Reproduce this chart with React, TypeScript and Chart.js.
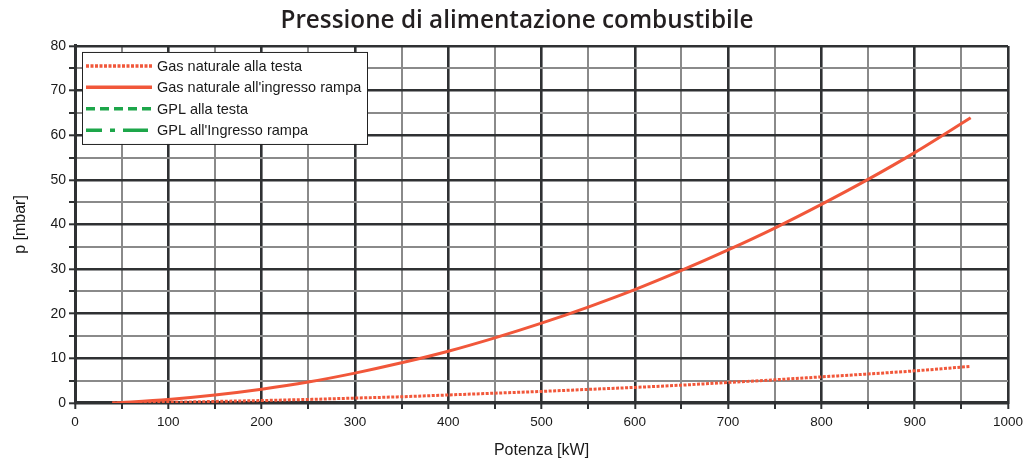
import React, { useEffect, useRef } from "react";
import { Chart, registerables } from "chart.js";

Chart.register(...registerables);

const TITLE = "Pressione di alimentazione combustibile";
const X_TITLE = "Potenza [kW]";
const Y_TITLE = "p [mbar]";

const SERIES_NAMES = [
  "Gas naturale alla testa",
  "Gas naturale all'ingresso rampa",
  "GPL alla testa",
  "GPL all'Ingresso rampa",
];

const POWER_KW = [40, 100, 150, 200, 250, 300, 350, 400, 450, 500, 550, 600, 650, 700, 750, 800, 850, 900, 960];
const GAS_TESTA = [0, 0.15, 0.35, 0.55, 0.8, 1.1, 1.4, 1.8, 2.2, 2.6, 3.05, 3.5, 4.0, 4.6, 5.2, 5.85, 6.5, 7.2, 8.2];
const GAS_RAMPA = [0, 0.8, 1.8, 3.1, 4.7, 6.7, 9.0, 11.6, 14.6, 17.9, 21.5, 25.4, 29.7, 34.3, 39.2, 44.5, 50.1, 56.1, 63.9];
const GPL_TESTA: number[] = [];
const GPL_RAMPA: number[] = [];

const X_MIN = 0;
const X_MAX = 1000;
const X_STEP = 50;
const X_LABEL_STEP = 100;
const Y_MIN = 0;
const Y_MAX = 80;
const Y_STEP = 5;
const Y_LABEL_STEP = 10;

const RED = "#f1573a";
const GREEN = "#1da64a";
const MAJOR = "#2f3133";
const MINOR = "#8a8a8a";
const TEXT = "#1a1a1a";
const SANS = "'Liberation Sans', Arial, sans-serif";

const toPoints = (ys: number[]) => ys.map((y, i) => ({ x: POWER_KW[i], y }));

const legendBoxPlugin = {
  id: "legendBox",
  afterDraw(chart: any) {
    const { ctx, chartArea } = chart;
    const left = chartArea.left + 7;
    const top = chartArea.top + 6;
    const w = 285;
    const h = 92;
    ctx.save();
    ctx.fillStyle = "#ffffff";
    ctx.fillRect(left, top, w, h);
    ctx.strokeStyle = "#222222";
    ctx.lineWidth = 1;
    ctx.strokeRect(left + 0.5, top + 0.5, w, h);
    chart.data.datasets.forEach((ds: any, i: number) => {
      const y = top + 14 + i * 21.4;
      ctx.save();
      ctx.strokeStyle = ds.borderColor;
      ctx.lineWidth = 3.5;
      ctx.setLineDash(ds.legendDash || ds.borderDash || []);
      ctx.lineDashOffset = ds.legendDashOffset || 0;
      ctx.beginPath();
      ctx.moveTo(left + 4, y);
      ctx.lineTo(left + 70, y);
      ctx.stroke();
      ctx.restore();
      ctx.fillStyle = TEXT;
      ctx.font = `14.5px ${SANS}`;
      ctx.textBaseline = "middle";
      ctx.textAlign = "left";
      ctx.fillText(ds.label, left + 75, y + 1);
    });
    ctx.restore();
  },
};

const isMajorX = (v: number) => Math.abs(v % X_LABEL_STEP) < 1e-6;
const isMajorY = (v: number) => Math.abs(v % Y_LABEL_STEP) < 1e-6;

export default function App() {
  const ref = useRef<HTMLCanvasElement | null>(null);

  useEffect(() => {
    if (!ref.current) return;
    const chart = new Chart(ref.current, {
      type: "line",
      data: {
        datasets: [
          {
            label: SERIES_NAMES[0],
            data: toPoints(GAS_TESTA),
            borderColor: RED,
            backgroundColor: RED,
            borderWidth: 3,
            borderDash: [3, 1.5],
            legendDash: [3, 1.5],
            pointRadius: 0,
            cubicInterpolationMode: "monotone",
          } as any,
          {
            label: SERIES_NAMES[1],
            data: toPoints(GAS_RAMPA),
            borderColor: RED,
            backgroundColor: RED,
            borderWidth: 3,
            pointRadius: 0,
            cubicInterpolationMode: "monotone",
          } as any,
          {
            label: SERIES_NAMES[2],
            data: toPoints(GPL_TESTA),
            borderColor: GREEN,
            backgroundColor: GREEN,
            borderWidth: 3,
            borderDash: [9, 5],
            pointRadius: 0,
          } as any,
          {
            label: SERIES_NAMES[3],
            data: toPoints(GPL_RAMPA),
            borderColor: GREEN,
            backgroundColor: GREEN,
            borderWidth: 3,
            borderDash: [25, 8, 5, 8],
            legendDashOffset: 9,
            pointRadius: 0,
          } as any,
        ],
      },
      options: {
        animation: false,
        responsive: true,
        maintainAspectRatio: false,
        layout: { padding: { left: 13, right: 6, top: 0, bottom: 0 } },
        plugins: {
          legend: { display: false },
          tooltip: { enabled: false },
          title: {
            display: true,
            text: TITLE,
            color: "#231f20",
            font: { family: "'Open Sans', Lato, sans-serif", size: 24.3, weight: "600", lineHeight: 1.2 },
            padding: { top: 6, bottom: 10.8 },
          },
        },
        scales: {
          x: {
            type: "linear",
            min: X_MIN,
            max: X_MAX,
            afterFit: (s: any) => {
              s.height = 56;
              s.paddingRight = 19;
            },
            ticks: {
              stepSize: X_STEP,
              autoSkip: false,
              maxRotation: 0,
              padding: 5,
              color: TEXT,
              font: { family: SANS, size: 13.5 },
              callback: (v: any) => (isMajorX(Number(v)) ? String(v) : ""),
            },
            grid: {
              color: (c: any) => (isMajorX(c.tick?.value ?? 0) ? MAJOR : MINOR),
              lineWidth: (c: any) => (isMajorX(c.tick?.value ?? 0) ? 2.6 : 2),
              drawTicks: true,
              tickLength: 6,
              tickColor: MAJOR,
              tickWidth: 2,
            },
            border: { display: true, color: MAJOR, width: 3 },
            title: {
              display: true,
              text: X_TITLE,
              color: TEXT,
              font: { family: SANS, size: 16, lineHeight: 1 },
              padding: { top: 0, bottom: 0 },
            },
          },
          y: {
            type: "linear",
            min: Y_MIN,
            max: Y_MAX,
            afterFit: (s: any) => {
              s.width = 62;
            },
            ticks: {
              stepSize: Y_STEP,
              autoSkip: false,
              padding: 3,
              color: TEXT,
              font: { family: SANS, size: 14 },
              callback: (v: any) => (isMajorY(Number(v)) ? String(v) : ""),
            },
            grid: {
              color: (c: any) => (isMajorY(c.tick?.value ?? 0) ? MAJOR : MINOR),
              lineWidth: (c: any) => (isMajorY(c.tick?.value ?? 0) ? 2.6 : 2),
              drawTicks: true,
              tickLength: 6,
              tickColor: MAJOR,
              tickWidth: 2,
            },
            border: { display: true, color: MAJOR, width: 3 },
            title: {
              display: true,
              text: Y_TITLE,
              color: TEXT,
              font: { family: SANS, size: 16, lineHeight: 1 },
              padding: { top: 0, bottom: 0 },
            },
          },
        },
      },
      plugins: [legendBoxPlugin],
    });
    return () => chart.destroy();
  }, []);

  return (
    <div style={{ position: "fixed", left: 0, top: 0, width: 1027, height: 459, background: "#fff" }}>
      <canvas ref={ref} />
    </div>
  );
}
